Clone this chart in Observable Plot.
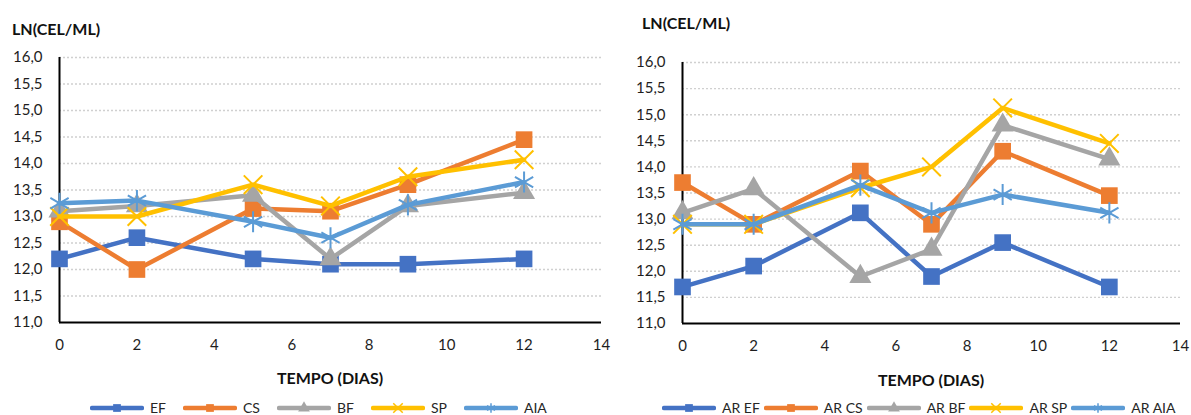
<!DOCTYPE html>
<html>
<head>
<meta charset="utf-8">
<script src="https://cdn.jsdelivr.net/npm/d3@7"></script>
<script src="https://cdn.jsdelivr.net/npm/@observablehq/plot@0.6"></script>
<style>
  body { margin: 0; background: #fff; font-family: Lato, "Noto Sans", sans-serif; }
  #wrap { position: relative; width: 1191px; height: 415px; overflow: hidden; }
  .panel { position: absolute; top: 0; height: 415px; }
  .panel svg.chart { position: absolute; left: 0; top: 0; }
  .ytitle, .xtitle { position: absolute; font-weight: bold; font-size: 16px; color: #111; white-space: nowrap; line-height: 18px; }
  .xtitle { transform: translateX(-50%); }
  .legend { position: absolute; display: flex; align-items: center; gap: 15px; font-size: 14px; color: #262626; white-space: nowrap; }
  .legend .item { display: flex; align-items: center; gap: 6px; }
</style>
</head>
<body>
<div id="wrap"></div>
<script>
// Sampling days
const days = [0, 2, 5, 7, 9, 12];

// Left panel series
const leftNames = ["EF", "CS", "BF", "SP", "AIA"];
const ef  = [12.2, 12.6, 12.2, 12.1, 12.1, 12.2];
const cs  = [12.9, 12.0, 13.15, 13.1, 13.6, 14.45];
const bf  = [13.1, 13.2, 13.4, 12.2, 13.2, 13.45];
const sp  = [13.0, 13.0, 13.6, 13.2, 13.75, 14.07];
const aia = [13.25, 13.3, 12.9, 12.6, 13.22, 13.65];

// Right panel series
const rightNames = ["AR EF", "AR CS", "AR BF", "AR SP", "AR AIA"];
const arEf  = [11.7, 12.1, 13.12, 11.9, 12.55, 11.7];
const arCs  = [13.7, 12.9, 13.92, 12.9, 14.3, 13.45];
const arBf  = [13.12, 13.58, 11.9, 12.42, 14.8, 14.15];
const arSp  = [12.9, 12.9, 13.6, 14.0, 15.13, 14.45];
const arAia = [12.9, 12.9, 13.65, 13.12, 13.47, 13.12];

// Axis ticks
const yTicks = [11, 11.5, 12, 12.5, 13, 13.5, 14, 14.5, 15, 15.5, 16];
const xTicks = [0, 2, 4, 6, 8, 10, 12, 14];

// Series styling, by position in each panel
const colors  = ["#4472C4", "#ED7D31", "#A5A5A5", "#FFC000", "#5B9BD5"];
const symbols = ["square", "square", "triangle", "times", "asterisk"];
const filled  = [true, true, true, false, false];
const radius  = [9.4, 9.4, 8.2, 8.5, 10];

const yFormat = d => d.toFixed(1).replace(".", ",");

function buildChart(names, values, opts) {
  const marks = [
    Plot.ruleY(yTicks.filter(t => t > 11), {stroke: "#d0d0d0", strokeWidth: 1.4, strokeDasharray: "2,2"}),
    Plot.axisY({ticks: yTicks, tickFormat: yFormat, tickSize: 0, tickPadding: 17, label: null, fill: "#1e1e1e"}),
    Plot.axisX({ticks: xTicks, tickSize: 0, tickPadding: 17, label: null, fill: "#1e1e1e"}),
    Plot.ruleX([0], {stroke: "#000", strokeWidth: 2}),
    Plot.ruleY([11], {stroke: "#000", strokeWidth: 2})
  ];
  names.forEach((name, i) => {
    const rows = days.map((d, j) => ({series: name, day: d, value: values[i][j]}));
    marks.push(Plot.line(rows, {x: "day", y: "value", stroke: colors[i], strokeWidth: 4.5, strokeLinejoin: "round"}));
    marks.push(Plot.dot(rows, filled[i]
      ? {x: "day", y: "value", symbol: symbols[i], r: radius[i], fill: colors[i], stroke: "none"}
      : {x: "day", y: "value", symbol: symbols[i], r: radius[i], fill: "none", stroke: colors[i], strokeWidth: 2}));
  });
  const svg = Plot.plot({
    width: opts.width,
    height: 370,
    marginLeft: opts.marginLeft,
    marginRight: opts.marginRight,
    marginTop: opts.marginTop,
    marginBottom: opts.marginBottom,
    x: {domain: [0, 14]},
    y: {domain: [11, 16]},
    style: {fontSize: "15px", fontFamily: "Lato, 'Noto Sans', sans-serif", background: "transparent", overflow: "visible"},
    marks
  });
  svg.classList.add("chart");
  return svg;
}

function swatch(i) {
  const w = 54, h = 14;
  const s = d3.create("svg").attr("width", w).attr("height", h);
  s.append("line").attr("x1", 2).attr("x2", w - 2).attr("y1", h / 2).attr("y2", h / 2)
    .attr("stroke", colors[i]).attr("stroke-width", 4.5).attr("stroke-linecap", "round");
  const sym = {square: d3.symbolSquare, triangle: d3.symbolTriangle, times: d3.symbolTimes, asterisk: d3.symbolAsterisk}[symbols[i]];
  const p = s.append("path").attr("transform", `translate(${w / 2},${h / 2})`)
    .attr("d", d3.symbol(sym, 60)());
  if (filled[i]) p.attr("fill", colors[i]);
  else p.attr("fill", "none").attr("stroke", colors[i]).attr("stroke-width", 1.5);
  return s.node();
}

function buildPanel(names, values, cfg) {
  const panel = document.createElement("div");
  panel.className = "panel";
  panel.style.left = cfg.left + "px";
  panel.style.width = cfg.width + "px";
  panel.appendChild(buildChart(names, values, cfg));

  const yt = document.createElement("div");
  yt.className = "ytitle";
  yt.textContent = "LN(CEL/ML)";
  yt.style.left = cfg.yTitleX + "px";
  yt.style.top = cfg.yTitleY + "px";
  panel.appendChild(yt);

  const xt = document.createElement("div");
  xt.className = "xtitle";
  xt.textContent = "TEMPO (DIAS)";
  xt.style.left = cfg.xTitleX + "px";
  xt.style.top = cfg.xTitleY + "px";
  panel.appendChild(xt);

  const lg = document.createElement("div");
  lg.className = "legend";
  lg.style.left = cfg.legendX + "px";
  lg.style.top = cfg.legendY + "px";
  lg.style.gap = cfg.legendGap + "px";
  names.forEach((n, i) => {
    const it = document.createElement("div");
    it.className = "item";
    it.appendChild(swatch(i));
    const t = document.createElement("span");
    t.textContent = n;
    it.appendChild(t);
    lg.appendChild(it);
  });
  panel.appendChild(lg);
  return panel;
}

const wrap = document.getElementById("wrap");
wrap.appendChild(buildPanel(leftNames, [ef, cs, bf, sp, aia], {
  left: 0, width: 606, marginLeft: 59, marginRight: 5, marginTop: 57, marginBottom: 48,
  yTitleX: 12, yTitleY: 20, xTitleX: 330, xTitleY: 369, legendX: 90, legendY: 399, legendGap: 17
}));
wrap.appendChild(buildPanel(rightNames, [arEf, arCs, arBf, arSp, arAia], {
  left: 600, width: 591, marginLeft: 82, marginRight: 11, marginTop: 62, marginBottom: 47,
  yTitleX: 42, yTitleY: 14, xTitleX: 331, xTitleY: 371, legendX: 62, legendY: 399, legendGap: 4
}));
</script>
</body>
</html>
